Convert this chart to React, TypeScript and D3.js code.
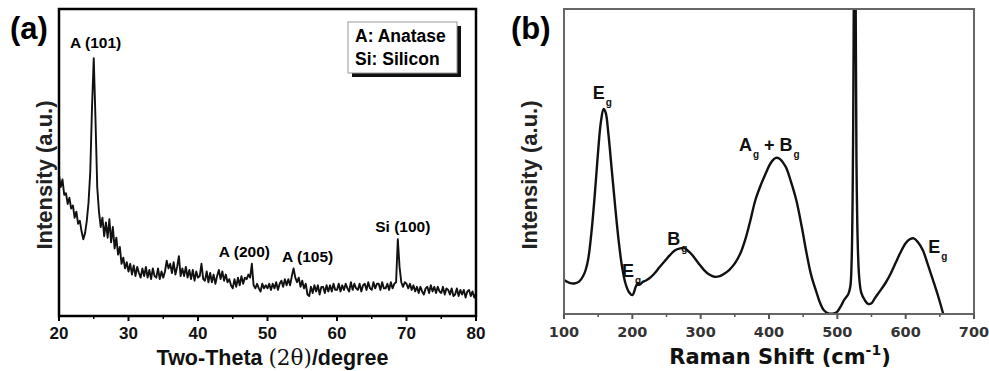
import React from 'react';
import * as d3 from 'd3';

// ---- panel (a): XRD, 20..80 deg sampled every 0.25 deg
const xrdStart = 20;
const xrdStep = 0.25;
const xrdIntensity = [
  46, 42, 44.5, 39.5,
  40, 36.5, 38.5, 35,
  36, 32, 34, 30,
  31, 27.5, 25, 27,
  31, 37, 47, 68,
  84, 64, 42, 34,
  29, 32, 26, 30.5,
  25.5, 31.5, 24, 29,
  22, 25.5, 20, 22.5,
  17, 19, 15.5, 17.5,
  14.5, 17, 13.5, 16.5,
  13, 16, 14, 12.5,
  15.5, 13, 16, 12.5,
  15, 12, 15.5, 13,
  12.5, 15.5, 12, 14.5,
  12.5, 14.5, 18, 15.5,
  17, 14, 17.5, 13.5,
  16, 19.5, 13, 15.5,
  13, 16, 12.5, 15,
  12, 15, 11.5, 14.5,
  12.5, 13, 17, 12,
  11.5, 14.5, 11, 14,
  11, 13.5, 10.5, 13,
  15, 12, 14.5, 11.5,
  13.5, 11, 12, 10,
  9, 12, 9.5, 12.5,
  10, 13, 10.5, 12.5,
  12, 13.5, 12.5, 17,
  10, 9, 10.5, 9,
  8, 10.5, 9, 10,
  9, 10.5, 8.5, 10.5,
  9, 11, 8.5, 10.5,
  11.5, 9.5, 12, 10,
  12, 10, 13, 15.5,
  12.5, 11, 12.5, 9.5,
  11.5, 9, 10.5, 7,
  6.5, 9.5, 7.5, 10,
  8, 10, 7, 9.5,
  9.5, 7.5, 10, 8,
  10, 8, 10.5, 8.5,
  8.5, 10.5, 8, 10,
  8.5, 10.5, 9, 8,
  11, 8.5, 10.5, 9,
  8.5, 10.5, 8, 10,
  10.5, 8.5, 11, 9,
  8.5, 11, 9, 10.5,
  10.5, 8.5, 11, 9,
  9, 10.5, 8.5, 11,
  9, 10.5, 11, 25,
  16, 11, 9.5, 11,
  10.5, 9, 10.5, 8.5,
  10, 8, 9.5, 7.5,
  9.5, 8, 7, 9,
  9.5, 7.5, 10, 8,
  9.5, 7.5, 9.5, 8,
  7.5, 9.5, 7, 9,
  8.5, 7, 9, 6.5,
  7, 9, 6.5, 8.5,
  7, 8.5, 6, 8,
  8.5, 6.5, 8, 6,
  7.5,
];
const xrdTicks = [20, 30, 40, 50, 60, 70, 80];
const xrdMinorTicks = [25, 35, 45, 55, 65, 75];
const xrdPeaks = [
  { label: 'A (101)', x: 21.6, y: 87.3 },
  { label: 'A (200)', x: 43.0, y: 19.2 },
  { label: 'A (105)', x: 52.1, y: 17.6 },
  { label: 'Si (100)', x: 65.5, y: 27.4 },
];
const legendLines = ['A: Anatase', 'Si: Silicon'];

// ---- panel (b): Raman
const ramanShift = [
  100, 108, 115, 122, 130, 135, 140, 145, 150, 154, 158, 161, 165, 170, 175, 180, 185, 190, 195,
  200, 205, 208, 211, 215, 220, 225, 232, 240, 248, 255, 262, 270, 276, 280, 285, 290, 298,
  305, 312, 320, 328, 335, 342, 350, 358, 365, 372, 380, 388, 395, 400, 405, 410, 415, 420,
  425, 432, 440, 448, 455, 462, 470, 475, 480, 487, 495, 500, 505, 510, 516, 519, 521, 523,
  525.5, 528, 530, 532, 535, 540, 545, 550, 555, 562, 570, 578, 585, 592, 600, 606, 612, 618,
  625, 632, 640, 648, 655,
];
const ramanIntensity = [
  11.1, 10.2, 10, 10.6, 13.4, 17.5, 26.4, 39, 53.6, 63, 67.2, 66, 59, 47, 35, 24, 15.4, 10, 7.2,
  6.2, 8.9, 10.2, 9.6, 10.5, 11, 11.7, 13.2, 15.4, 17.5, 19.3, 20.8, 21.5, 21.6, 21, 20, 18.7, 16.3,
  14.4, 13, 12.2, 12.4, 13.3, 14.5, 16.6, 19.8, 24.2, 30, 37.3, 42.3, 46, 48.5, 50.3, 51.2, 51, 49.8,
  48, 43.5, 37.3, 28.5, 19.9, 12.5, 6.8, 3.5, 1.3, 0.2, 0.2, 0.8, 2.5, 4.6, 6.5, 9, 18, 55,
  160, 50, 22, 12, 7, 4.6, 3.3, 3.5, 5.2, 7.4, 10, 13.2, 16.6, 20, 23.2, 24.5, 24.8, 23.5,
  21, 16.5, 11.1, 5.5, 0,
];
const ramanTicks = [100, 200, 300, 400, 500, 600, 700];
const ramanMinorTicks = [150, 250, 350, 450, 550, 650];
const ramanModes = [
  { main: 'E', sub: 'g', x: 142, y: 70.6 },
  { main: 'E', sub: 'g', x: 185, y: 12.1 },
  { main: 'B', sub: 'g', x: 251, y: 22.5 },
  { main: 'A', sub: 'g', extra: ' + B', sub2: 'g', x: 356, y: 53.6 },
  { main: 'E', sub: 'g', x: 633, y: 19.9 },
];

const FONT = '"Liberation Sans", Arial, sans-serif';
const WIDE = '"DejaVu Sans", Verdana, sans-serif';

export default function App() {
  // panel a geometry
  const a = { left: 59, right: 476, top: 9, bottom: 316 };
  const xA = d3.scaleLinear().domain([20, 80]).range([a.left, a.right]);
  const yA = d3.scaleLinear().domain([0, 100]).range([a.bottom, a.top]);
  const xrdData = xrdIntensity.map((v, i) => ({ x: xrdStart + i * xrdStep, y: v }));
  const xrdLine = d3.line<{ x: number; y: number }>()
    .x(d => xA(d.x))
    .y(d => yA(d.y));

  // panel b geometry
  const b = { left: 564, right: 974, top: 9, bottom: 314 };
  const xB = d3.scaleLinear().domain([100, 700]).range([b.left, b.right]);
  const yB = d3.scaleLinear().domain([0, 100]).range([b.bottom, b.top]);
  const ramanData = ramanShift.map((s, i) => ({ x: s, y: ramanIntensity[i] }));
  const ramanLine = d3.line<{ x: number; y: number }>()
    .x(d => xB(d.x))
    .y(d => yB(d.y))
    .curve(d3.curveCatmullRom.alpha(0.5));

  return (
    <div style={{ position: 'absolute', left: 0, top: 0 }}>
      <svg width={989} height={371} style={{ display: 'block', background: '#fff' }} fontFamily={FONT}>
        <defs>
          <clipPath id="clipB">
            <rect x={b.left} y={b.top} width={b.right - b.left} height={b.bottom - b.top + 2} />
          </clipPath>
        </defs>

        {/* ---------- (a) ---------- */}
        <text x={10} y={39} fontSize={31} fontWeight="bold">(a)</text>
        <path d={xrdLine(xrdData) || ''} fill="none" stroke="#111" strokeWidth={1.9} strokeLinejoin="round" />
        <rect x={a.left} y={a.top} width={a.right - a.left} height={a.bottom - a.top}
          fill="none" stroke="#000" strokeWidth={2.5} />
        {xrdTicks.map(t => (
          <g key={t}>
            <line x1={xA(t)} x2={xA(t)} y1={a.bottom} y2={a.bottom + 5} stroke="#000" strokeWidth={2} />
            <text x={xA(t)} y={339} textAnchor="middle" fontSize={17} fontWeight="bold" fill="#111">{t}</text>
          </g>
        ))}
        {xrdMinorTicks.map(t => (
          <line key={t} x1={xA(t)} x2={xA(t)} y1={a.bottom} y2={a.bottom + 3} stroke="#000" strokeWidth={1.5} />
        ))}
        <text x={(a.left + a.right) / 2 + 5} y={365} textAnchor="middle" fontSize={21.5} fontWeight="bold" fill="#111">
          Two-Theta <tspan fontFamily='"DejaVu Serif", serif' fontWeight="normal">(2θ)</tspan>/degree
        </text>
        <text transform={`translate(52,175) rotate(-90)`} textAnchor="middle" fontSize={22} fontWeight="bold" fill="#222">
          Intensity (a.u.)
        </text>
        {xrdPeaks.map(p => (
          <text key={p.label} x={xA(p.x)} y={yA(p.y)} fontSize={15.5} fontWeight="bold">{p.label}</text>
        ))}
        <rect x={352} y={26} width={109} height={51} fill="#111" />
        <rect x={348} y={22} width={109} height={51} fill="#fff" stroke="#999" strokeWidth={1} />
        {legendLines.map((l, i) => (
          <text key={l} x={355} y={42 + i * 23} fontSize={17.5} fontWeight="bold">{l}</text>
        ))}

        {/* ---------- (b) ---------- */}
        <text x={511} y={39} fontSize={31} fontWeight="bold">(b)</text>
        <path d={ramanLine(ramanData) || ''} fill="none" stroke="#111" strokeWidth={2.4}
          strokeLinejoin="round" clipPath="url(#clipB)" />
        <rect x={b.left} y={b.top} width={b.right - b.left} height={b.bottom - b.top}
          fill="none" stroke="#666" strokeWidth={2} />
        {ramanTicks.map(t => (
          <g key={t}>
            <line x1={xB(t)} x2={xB(t)} y1={b.bottom} y2={b.bottom + 5} stroke="#555" strokeWidth={2} />
            <text x={xB(t)} y={337} textAnchor="middle" fontSize={14.5} fontWeight="bold" fill="#333"
              fontFamily={WIDE}>{t}</text>
          </g>
        ))}
        {ramanMinorTicks.map(t => (
          <line key={t} x1={xB(t)} x2={xB(t)} y1={b.bottom} y2={b.bottom + 3} stroke="#555" strokeWidth={1.5} />
        ))}
        <text x={780} y={364} textAnchor="middle" fontSize={21} fontWeight="bold" fill="#111" fontFamily={WIDE}>
          Raman Shift (cm<tspan dy={-9} fontSize={14}>-1</tspan><tspan dy={9}>)</tspan>
        </text>
        <text transform={`translate(537,175) rotate(-90)`} textAnchor="middle" fontSize={22} fontWeight="bold" fill="#222">
          Intensity (a.u.)
        </text>
        {ramanModes.map((m, i) => (
          <text key={i} x={xB(m.x)} y={yB(m.y)} fontSize={18} fontWeight="bold" fill="#111">
            {m.main}
            <tspan dx={1} dy={7} fontSize={10}>{m.sub}</tspan>
            {m.extra ? <tspan dy={-7} fontSize={18}>{m.extra}</tspan> : null}
            {m.sub2 ? <tspan dx={1} dy={7} fontSize={10}>{m.sub2}</tspan> : null}
          </text>
        ))}
      </svg>
    </div>
  );
}
